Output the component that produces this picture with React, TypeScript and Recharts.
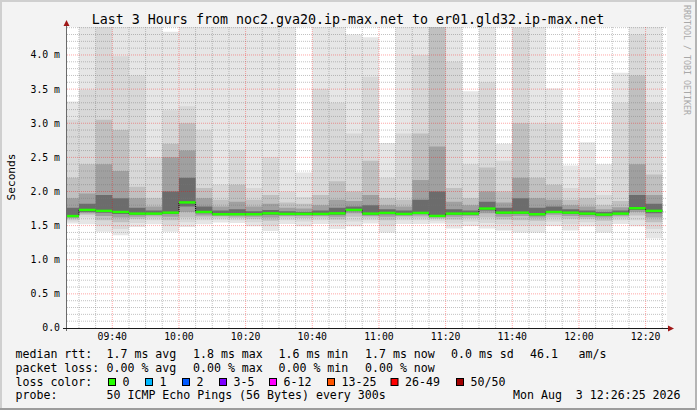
import React from "react";
import {
  ComposedChart,
  Area,
  Line,
  Scatter,
  XAxis,
  YAxis,
  CartesianGrid,
  ReferenceLine,
} from "recharts";

// 5 minute bins, 50 pings each; values in ms (sorted ping percentiles)
const binTimes = [
  "09:25", "09:30", "09:35", "09:40", "09:45", "09:50", "09:55", "10:00", "10:05",
  "10:10", "10:15", "10:20", "10:25", "10:30", "10:35", "10:40", "10:45", "10:50",
  "10:55", "11:00", "11:05", "11:10", "11:15", "11:20", "11:25", "11:30", "11:35",
  "11:40", "11:45", "11:50", "11:55", "12:00", "12:05", "12:10", "12:15", "12:20",
];
const pingMin = [
  1.53, 1.52, 1.41, 1.36, 1.48, 1.52, 1.41, 1.48, 1.52, 1.545, 1.54, 1.49, 1.42, 1.525, 1.49, 1.525, 1.45, 1.49,
  1.53, 1.4, 1.525, 1.525, 1.53, 1.456, 1.495, 1.456, 1.43, 1.4, 1.4, 1.495, 1.43, 1.49, 1.4, 1.525, 1.49, 1.315,
];
const p6 = [
  1.56, 1.62, 1.5, 1.45, 1.54, 1.58, 1.5, 1.55, 1.58, 1.59, 1.58, 1.55, 1.5, 1.58, 1.56, 1.58, 1.53, 1.56,
  1.58, 1.5, 1.58, 1.58, 1.57, 1.53, 1.56, 1.54, 1.52, 1.5, 1.5, 1.56, 1.52, 1.55, 1.5, 1.58, 1.58, 1.45,
];
const p14 = [
  1.59, 1.66, 1.58, 1.55, 1.6, 1.62, 1.58, 1.62, 1.62, 1.62, 1.61, 1.6, 1.57, 1.62, 1.61, 1.62, 1.59, 1.63,
  1.62, 1.58, 1.62, 1.62, 1.6, 1.59, 1.61, 1.62, 1.59, 1.58, 1.57, 1.62, 1.6, 1.6, 1.57, 1.62, 1.65, 1.55,
];
const p24 = [
  1.61, 1.68, 1.64, 1.62, 1.63, 1.65, 1.63, 1.7, 1.65, 1.64, 1.635, 1.63, 1.62, 1.64, 1.64, 1.64, 1.63, 1.68,
  1.64, 1.63, 1.64, 1.65, 1.62, 1.63, 1.64, 1.68, 1.63, 1.64, 1.62, 1.66, 1.64, 1.63, 1.62, 1.645, 1.7, 1.62,
];
const p36 = [
  1.63, 1.7, 1.69, 1.67, 1.66, 1.665, 1.67, 1.78, 1.68, 1.655, 1.655, 1.655, 1.66, 1.66, 1.66, 1.66, 1.66, 1.71,
  1.66, 1.665, 1.66, 1.67, 1.635, 1.66, 1.66, 1.72, 1.67, 1.67, 1.65, 1.685, 1.67, 1.655, 1.645, 1.665, 1.73, 1.68,
];
const median = [
  1.64, 1.73, 1.716, 1.7, 1.676, 1.676, 1.69, 1.84, 1.7, 1.667, 1.667, 1.667, 1.68, 1.672, 1.672, 1.672, 1.68, 1.73,
  1.676, 1.686, 1.672, 1.686, 1.642, 1.676, 1.676, 1.75, 1.69, 1.69, 1.667, 1.7, 1.69, 1.676, 1.662, 1.676, 1.755, 1.716,
];
const p64 = [
  1.76, 1.82, 1.95, 1.9, 1.76, 1.72, 2.0, 2.2, 1.78, 1.72, 1.74, 1.71, 1.73, 1.71, 1.7, 1.72, 1.76, 1.78,
  1.8, 1.74, 1.72, 1.88, 2.0, 1.74, 1.72, 1.85, 1.76, 1.9, 1.76, 1.78, 1.74, 1.72, 1.7, 1.72, 1.95, 1.82,
];
const p76 = [
  1.9, 1.97, 2.4, 2.3, 1.9, 1.78, 2.5, 2.6, 1.9, 1.78, 1.85, 1.78, 1.82, 1.76, 1.75, 1.8, 1.88, 1.86,
  1.95, 1.8, 1.78, 2.17, 2.66, 1.85, 1.8, 2.0, 1.84, 2.2, 1.9, 1.88, 1.8, 1.78, 1.74, 1.77, 2.4, 1.95,
];
const p86 = [
  2.2, 2.4, 3.05, 2.9, 2.07, 1.9, 2.7, 3.0, 2.05, 1.88, 2.1, 1.88, 1.95, 1.84, 1.82, 1.95, 2.15, 2.0,
  2.45, 1.9, 1.88, 2.85, 4.6, 2.05, 1.9, 2.35, 2.0, 3.0, 2.2, 2.1, 1.88, 1.9, 1.8, 1.86, 3.7, 2.25,
];
const p94 = [
  3.05, 3.49, 4.7, 3.98, 3.7, 2.5, 3.19, 3.25, 2.9, 2.1, 2.6, 2.05, 2.5, 2.0, 1.92, 3.5, 3.3, 2.85,
  3.68, 2.2, 2.85, 4.0, 6.0, 3.9, 2.4, 3.6, 2.45, 4.4, 3.0, 3.0, 2.05, 2.2, 1.95, 3.3, 4.3, 3.3,
];
const pingMax = [
  3.32, 5.0, 6.0, 4.8, 4.6, 4.5, 4.34, 5.5, 4.6, 4.5, 4.6, 4.5, 4.5, 4.5, 2.28, 4.6, 4.6, 4.3,
  4.26, 2.71, 4.6, 5.0, 6.5, 4.6, 3.47, 5.5, 2.7, 4.9, 4.7, 3.51, 2.38, 2.72, 2.4, 3.74, 5.5, 4.8,
];

const yTicks = [0, 0.5, 1, 1.5, 2, 2.5, 3, 3.5, 4];
const xTickLabels = ["09:40", "10:00", "10:20", "10:40", "11:00", "11:20", "11:40", "12:00", "12:20"];

const medianStats = ["1.7 ms avg", "1.8 ms max", "1.6 ms min", "1.7 ms now", "0.0 ms sd"];
const lossStats = ["0.00 % avg", "0.00 % max", "0.00 % min", "0.00 % now"];
const lossLabels = ["0", "1", "2", "3-5", "6-12", "13-25", "26-49", "50/50"];
const lossColors = ["#26ff00", "#00b8ff", "#0059ff", "#7e00ff", "#ff00ff", "#ff5500", "#ff0000", "#a10000"];

const toMin = (s: string) => {
  const [h, m] = s.split(":").map(Number);
  return h * 60 + m;
};
const fmtTime = (v: number) =>
  `${String(Math.floor(v / 60)).padStart(2, "0")}:${String(v % 60).padStart(2, "0")}`;

const STEP = 5;
const START = toMin("09:26") + 25 / 60;
const END = START + 180;
const Y_MAX = 4.41;
const PLOT_W = 600;
const BIN_PX = (PLOT_W * STEP) / (END - START);

const layers = [
  { lo: pingMin, hi: pingMax, color: "#e6e6e6" },
  { lo: p6, hi: p94, color: "#d8d8d8" },
  { lo: p14, hi: p86, color: "#c0c0c0" },
  { lo: p24, hi: p76, color: "#a0a0a0" },
  { lo: p36, hi: p64, color: "#6c6c6c" },
];

const rowFor = (i: number, t: number) => {
  const row: Record<string, number> = { t, med: median[i] };
  layers.forEach((l, k) => {
    row[`lo${k}`] = l.lo[i];
    row[`band${k}`] = l.hi[i] - l.lo[i];
  });
  return row;
};
const data = binTimes.map((s, i) => rowFor(i, toMin(s)));
// closing point so the last step is drawn to 12:25
data.push(rowFor(binTimes.length - 1, toMin(binTimes[binTimes.length - 1]) + STEP));
const medData = binTimes.map((s, i) => ({ t: toMin(s), med: median[i] }));

const minorY: number[] = [];
for (let k = 1; k <= 44; k++) if (k % 5 !== 0) minorY.push(k / 10);
const minorX: number[] = [];
for (let t = toMin("09:30"); t <= toMin("12:25"); t += STEP) if (t % 20 !== 0) minorX.push(t);
const xTicks = xTickLabels.map(toMin);

const mono = "'DejaVu Sans Mono', monospace";

const MedianBar = (props: any) => {
  const { cx, cy } = props;
  if (cx == null || cy == null || isNaN(cx) || isNaN(cy)) return null;
  return <rect x={cx} y={cy - 1.2} width={BIN_PX} height={2.4} fill="#26ff00" />;
};

export default function App() {
  const statX = [106.5, 193, 278.5, 365, 451];
  const boxX = [108.5, 145.5, 182.5, 219.5, 269.5, 327.5, 391, 456.5];
  return (
    <div style={{ position: "absolute", left: 0, top: 0, width: 697, height: 410, background: "#f3f3f3" }}>
      <ComposedChart
        width={697}
        height={410}
        data={data}
        margin={{ top: 27, right: 30, bottom: 62, left: 0 }}
      >
        <CartesianGrid horizontal={false} vertical={false} fill="#ffffff" />
        <XAxis
          dataKey="t"
          type="number"
          domain={[START, END]}
          allowDataOverflow
          ticks={xTicks}
          tickFormatter={fmtTime}
          axisLine={false}
          tickLine={false}
          tickSize={0}
          tickMargin={5}
          height={20}
          tick={{ fill: "#000", fontSize: 9.8, fontFamily: mono }}
        />
        <YAxis
          type="number"
          domain={[0, Y_MAX]}
          allowDataOverflow
          ticks={yTicks}
          tickFormatter={(v: number) => (v === 0 ? "0.0" : `${v.toFixed(1)} m`)}
          axisLine={false}
          tickLine={false}
          tickSize={0}
          tickMargin={7}
          width={67}
          tick={{ fill: "#000", fontSize: 9.8, fontFamily: mono }}
        />
        {layers.map((l, k) => [
          <Area
            key={`lo${k}`}
            dataKey={`lo${k}`}
            stackId={`L${k}`}
            type="stepAfter"
            stroke="none"
            fill="none"
            dot={false}
            activeDot={false}
            isAnimationActive={false}
          />,
          <Area
            key={`band${k}`}
            dataKey={`band${k}`}
            stackId={`L${k}`}
            type="stepAfter"
            stroke="none"
            fill={l.color}
            fillOpacity={1}
            dot={false}
            activeDot={false}
            isAnimationActive={false}
          />,
        ])}
        {minorY.map((v) => (
          <ReferenceLine key={`my${v}`} y={v} stroke="rgba(120,120,120,0.45)" strokeDasharray="1 1" />
        ))}
        {minorX.map((v) => (
          <ReferenceLine key={`mx${v}`} x={v} stroke="rgba(120,120,120,0.45)" strokeDasharray="1 1" />
        ))}
        {yTicks.slice(1).map((v) => (
          <ReferenceLine key={`My${v}`} y={v} stroke="rgba(255,0,0,0.35)" strokeDasharray="1 1" />
        ))}
        {xTicks.map((v) => (
          <ReferenceLine key={`Mx${v}`} x={v} stroke="rgba(255,0,0,0.35)" strokeDasharray="1 1" />
        ))}
        <Line
          dataKey="med"
          type="stepAfter"
          stroke="#000"
          strokeWidth={1}
          strokeDasharray="1 1"
          dot={false}
          activeDot={false}
          isAnimationActive={false}
        />
        <Scatter data={medData} dataKey="med" shape={MedianBar} isAnimationActive={false} />
      </ComposedChart>

      <svg
        width={697}
        height={410}
        style={{ position: "absolute", left: 0, top: 0, pointerEvents: "none" }}
        fontFamily={mono}
      >
        {/* frame */}
        <line x1={0} y1={1} x2={697} y2={1} stroke="#cfcfcf" strokeWidth={2} />
        <line x1={1} y1={0} x2={1} y2={410} stroke="#cfcfcf" strokeWidth={2} />
        <line x1={0} y1={409} x2={697} y2={409} stroke="#9c9c9c" strokeWidth={2} />
        <line x1={696} y1={0} x2={696} y2={410} stroke="#b4b4b4" strokeWidth={2} />

        <text x={348} y={24} textAnchor="middle" fontSize={13.3} fill="#000">
          Last 3 Hours from noc2.gva20.ip-max.net to er01.gld32.ip-max.net
        </text>
        <text transform="translate(15,177) rotate(-90)" textAnchor="middle" fontSize={11.2} fill="#000">
          Seconds
        </text>
        <text transform="translate(684,5) rotate(90)" fontSize={8.3} fill="#a8a8a8">
          RRDTOOL / TOBI OETIKER
        </text>

        {/* axes */}
        <line x1={66.5} y1={331} x2={66.5} y2={25} stroke="#6a6a6a" strokeWidth={1} />
        <polygon points="63.5,26 69.5,26 66.5,20" fill="#a01818" />
        <line x1={63} y1={328.5} x2={669} y2={328.5} stroke="#1a1a1a" strokeWidth={1} />
        <polygon points="668,325.5 668,331.5 674,328.5" fill="#a01818" />

        {/* legend */}
        <g fontSize={11.6} fill="#000">
          <text x={15.5} y={358}>median rtt:</text>
          {medianStats.map((s, i) => (
            <text key={s + i} x={statX[i]} y={358}>{s}</text>
          ))}
          <text x={530} y={358}>46.1</text>
          <text x={578.5} y={358}>am/s</text>

          <text x={15.5} y={371.5}>packet loss:</text>
          {lossStats.map((s, i) => (
            <text key={s + i} x={statX[i]} y={371.5}>{s}</text>
          ))}

          <text x={15.5} y={385.5}>loss color:</text>
          {lossLabels.map((s, i) => (
            <g key={s}>
              <rect x={boxX[i]} y={378.5} width={7} height={7} fill={lossColors[i]} stroke="#000" strokeWidth={1} />
              <text x={boxX[i] + 14} y={385.5}>{s}</text>
            </g>
          ))}

          <text x={15.5} y={399}>probe:</text>
          <text x={106.5} y={399}>50 ICMP Echo Pings (56 Bytes) every 300s</text>
          <text x={513} y={399}>{"Mon Aug\u00a0\u00a03 12:26:25 2026"}</text>
        </g>
      </svg>
    </div>
  );
}
